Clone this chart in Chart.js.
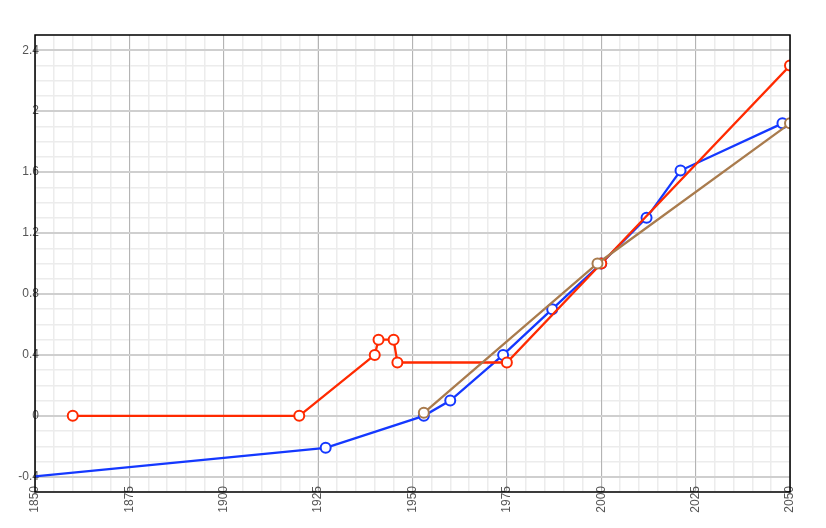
<!DOCTYPE html>
<html>
<head>
<meta charset="utf-8">
<script src="https://cdn.jsdelivr.net/npm/chart.js@4/dist/chart.umd.min.js"></script>
<style>
    html, body { margin: 0; padding: 0; background: #fff; }
    #wrap { width: 826px; height: 528px; }
</style>
</head>
<body>
<div id="wrap"><canvas id="chart"></canvas></div>
<script>
'use strict';

// series
var redYears = [1860, 1920, 1940, 1941, 1945, 1946, 1975, 2000, 2050];
var redValues = [0, 0, 0.4, 0.5, 0.5, 0.35, 0.35, 1.0, 2.3];

var blueYears = [1800, 1927, 1953, 1960, 1974, 1987, 2000, 2012, 2021, 2048];
var blueValues = [-0.52, -0.21, 0, 0.1, 0.4, 0.7, 1.0, 1.3, 1.61, 1.92];

var brownYears = [1953, 1999, 2050];
var brownValues = [0.02, 1.0, 1.92];

var xTicks = [1850, 1875, 1900, 1925, 1950, 1975, 2000, 2025, 2050];
var yTicks = [-0.4, 0, 0.4, 0.8, 1.2, 1.6, 2, 2.4];

function points(xs, ys) {
    var out = [];
    for (var i = 0; i < xs.length; i++) {
        out.push({ x: xs[i], y: ys[i] });
    }
    return out;
}

function series(xs, ys, color) {
    return {
        data: points(xs, ys),
        borderColor: color,
        borderWidth: 2.3,
        pointRadius: 5,
        pointHoverRadius: 5,
        pointBorderWidth: 2,
        pointBackgroundColor: '#fff',
        pointBorderColor: color,
        tension: 0,
        clip: 0
    };
}

// labels sit over the axis line, so don't clip them to the scale box
function noLabelClip(scale) {
    scale._computeLabelArea = function() { return undefined; };
}

// black box round the plot area
var frame = {
    id: 'frame',
    afterDatasetsDraw: function(chart) {
        var a = chart.chartArea;
        var ctx = chart.ctx;
        ctx.save();
        ctx.strokeStyle = '#000';
        ctx.lineWidth = 1.5;
        ctx.strokeRect(a.left, a.top, a.right - a.left, a.bottom - a.top);
        ctx.restore();
    }
};

var tickFont = { family: '"Liberation Sans", Arial, sans-serif', size: 12 };

var ctx = document.getElementById('chart').getContext('2d');
var chart = new Chart(ctx, {
    type: 'line',
    data: {
        datasets: [
            series(brownYears, brownValues, '#a97b4d'),
            series(redYears, redValues, '#ff2a00'),
            series(blueYears, blueValues, '#1438ff')
        ]
    },
    options: {
        responsive: true,
        maintainAspectRatio: false,
        animation: false,
        layout: { padding: { top: 35, right: 36, left: 0, bottom: 0 } },
        plugins: { legend: { display: false }, tooltip: { enabled: false } },
        scales: {
            x: {
                type: 'linear',
                position: 'bottom',
                min: 1850,
                max: 2050,
                afterBuildTicks: function(scale) {
                    scale.ticks = xTicks.map(function(v) { return { value: v }; });
                },
                afterFit: function(scale) {
                    scale.height = 36;
                    noLabelClip(scale);
                },
                grid: { color: '#b4b4b4', lineWidth: 1, drawTicks: false, z: -1 },
                border: { display: false },
                ticks: {
                    autoSkip: false,
                    minRotation: 90,
                    maxRotation: 90,
                    padding: -6,
                    color: '#555',
                    font: tickFont,
                    callback: function(v) { return String(v); }
                }
            },
            xMinor: {
                type: 'linear',
                position: 'bottom',
                min: 1850,
                max: 2050,
                ticks: { display: false, stepSize: 5 },
                afterFit: function(scale) { scale.height = 0; },
                grid: { color: '#ececec', lineWidth: 1.5, drawTicks: false, z: -2 },
                border: { display: false }
            },
            y: {
                type: 'linear',
                position: 'left',
                min: -0.5,
                max: 2.5,
                afterBuildTicks: function(scale) {
                    scale.ticks = yTicks.map(function(v) { return { value: v }; });
                },
                afterFit: function(scale) {
                    scale.width = 35;
                    noLabelClip(scale);
                },
                grid: { color: '#cfcfcf', lineWidth: 2, drawTicks: false, z: -1 },
                border: { display: false },
                ticks: {
                    padding: -4,
                    color: '#555',
                    font: tickFont,
                    callback: function(v) { return String(Math.round(v * 10) / 10); }
                }
            },
            yMinor: {
                type: 'linear',
                position: 'left',
                min: -0.5,
                max: 2.5,
                ticks: { display: false, stepSize: 0.1 },
                afterFit: function(scale) { scale.width = 0; },
                grid: { color: '#ececec', lineWidth: 1.5, drawTicks: false, z: -2 },
                border: { display: false }
            }
        }
    },
    plugins: [frame]
});
</script>
</body>
</html>
